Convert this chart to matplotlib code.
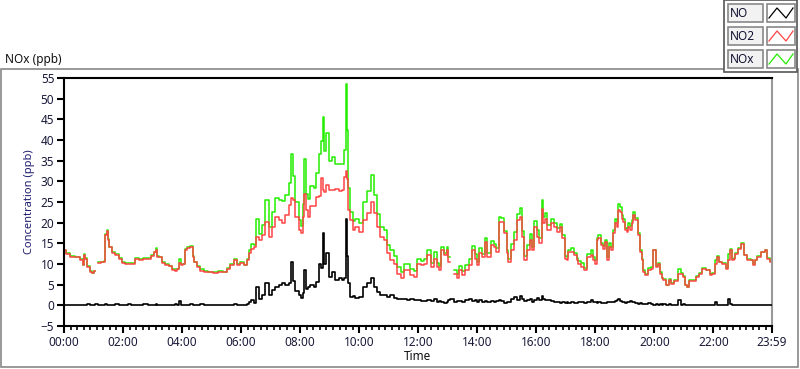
import numpy as np
import matplotlib
matplotlib.use("Agg")
import matplotlib.pyplot as plt
from matplotlib.patches import Rectangle
from matplotlib.lines import Line2D
from matplotlib.ticker import MultipleLocator, FixedLocator

plt.rcParams['font.family'] = ['Noto Sans', 'DejaVu Sans']

# minute of the day for each reading
minutes = [0, 8, 16, 28, 37, 39, 41, 45, 49, 55, 59, 61, 67, 73, 79, 83, 85, 88, 90, 94,
           100, 108, 114, 120, 128, 134, 140, 149, 155, 165, 175, 179, 185, 189, 191, 195,
           202, 210, 216, 222, 228, 232, 234, 240, 244, 248, 252, 261, 263, 267, 273, 281,
           287, 297, 307, 318, 328, 334, 342, 348, 354, 362, 368, 375, 379, 383, 389, 393,
           399, 405, 413, 419, 425, 434, 440, 446, 454, 460, 464, 466, 474, 480, 484, 486,
           491, 493, 497, 505, 511, 515, 521, 525, 527, 531, 535, 541, 547, 556, 562, 568,
           572, 574, 576, 578, 586, 588, 596, 602, 613, 619, 627, 633, 639, 647, 653, 659,
           668, 674, 680, 688, 694, 700, 708, 714, 721, 729, 735, 741, 749, 755, 761, 765,
           769, 775, 780, 782, 788, 796, 800, 806, 812, 820, 826, 832, 837, 841, 847, 853,
           857, 863, 871, 877, 881, 887, 891, 898, 902, 904, 912, 918, 924, 928, 932, 938,
           944, 949, 953, 959, 963, 969, 973, 975, 979, 985, 993, 999, 1006, 1010, 1016, 1020,
           1024, 1026, 1034, 1040, 1044, 1046, 1054, 1060, 1067, 1075, 1077, 1081, 1085, 1087,
           1095, 1097, 1101, 1105, 1109, 1115, 1117, 1122, 1126, 1128, 1132, 1136, 1138, 1142,
           1146, 1148, 1152, 1156, 1158, 1162, 1166, 1168, 1172, 1176, 1178, 1183, 1189, 1197,
           1199, 1207, 1209, 1213, 1217, 1219, 1227, 1231, 1237, 1244, 1250, 1258, 1260, 1264,
           1268, 1274, 1280, 1288, 1294, 1301, 1309, 1315, 1321, 1325, 1329, 1335, 1341, 1349,
           1352, 1356, 1360, 1362, 1366, 1372, 1380, 1386, 1392, 1400, 1402, 1406, 1413, 1421,
           1427, 1431, 1437, 1439]

nan = float('nan')
no2 = [13.3, 12.5, 11.8, 11.7, 10.9, 9.7, 12.1, 11.3, 9.3, 8.0, 7.8, 8.2, nan, 10.2, 10.4, 10.6, 17.0, 18.0, 15.8, 14.1,
       12.6, 12.1, 11.3, 10.3, 10.0, 9.9, 10.1, 11.3, 11.0, 11.2, 11.3, 12.0, 12.8, 13.5, 11.8, 11.6,
       10.3, 9.7, 9.4, 8.6, 8.4, 8.7, 10.3, 9.7, 9.9, 13.5, 13.9, 14.0, 11.7, 10.5, 9.3, 8.4,
       8.1, 8.0, 7.9, 8.1, 8.0, 8.8, 9.7, 10.9, 9.7, 10.3, 9.7, 10.9, 12.6, 13.7, 14.1, 16.5,
       15.8, 17.0, 20.2, 16.5, 19.0, 21.4, 20.6, 19.8, 21.8, 24.2, 26.0, 25.4, 21.4, 18.2, 17.4, 21.4,
       27.0, 23.0, 21.4, 24.0, 24.0, 26.2, 26.5, 30.7, 28.0, 27.5, 29.0, 28.0, 27.9, 28.2, 27.6, 28.0,
       31.1, 32.5, 30.5, 23.0, 20.6, 18.2, 19.0, 17.8, 20.6, 22.3, 25.0, 22.3, 19.0, 16.5, 15.8, 12.6,
       10.9, 10.1, 7.7, 6.5, 8.5, 8.5, 7.3, 6.9, 10.1, 9.7, 10.1, 12.1, 9.3, 11.3, 9.3, 8.5,
       13.3, 12.1, 13.3, 10.5, nan, 7.7, 6.5, 8.5, 7.3, 8.5, 9.7, 13.3, 11.3, 9.7, 12.6, 11.7,
       15.3, 11.7, 14.5, 14.0, 12.9, 20.2, 20.2, 17.4, 12.6, 10.5, 13.3, 15.8, 20.6, 21.4, 16.5, 10.9,
       13.3, 15.8, 13.3, 19.0, 16.5, 15.0, 23.4, 19.8, 21.0, 18.2, 19.8, 19.0, 17.8, 19.0, 16.2, 11.3,
       10.9, 12.9, 12.9, 12.1, 10.9, 10.1, 9.3, 8.5, 11.7, 12.1, 10.9, 10.1, 15.8, 16.2,
       14.5, 13.7, 15.3, 10.9, 14.1, 13.3, 17.4, 19.8, 19.0, 23.0, 22.6, 21.0, 20.2, 18.2,
       17.8, 19.0, 18.2, 19.8, 21.8, 20.6, 20.6, 17.0, 12.9, 10.9, 8.1, 7.3, 8.5, 8.9,
       13.3, 9.3, 10.1, 7.7, 6.5, 6.1, 4.8, 6.1, 5.2, 6.0, 7.7, 7.7, 6.9, 4.8,
       4.4, 6.0, 6.0, 6.9, 7.7, 8.9, 8.5, 7.3, 7.7, 10.1, 11.7, 10.5, 10.1, 8.9,
       10.9, 13.3, 10.9, 11.3, 12.5, 13.7, 14.9, 12.1, 10.9, 10.9, 9.7, 10.9, 11.7, 12.9,
       13.3, 11.3, 10.5, 10.3]

no = [0.2, 0.1, 0.2, 0.1, 0.2, 0.1, 0.2, 0.1, 0.3, 0.2, 0.1, 0.2, 0.3, 0.2, 0.1, 0.2, 0.3, 0.2, 0.2, 0.1,
      0.2, 0.3, 0.2, 0.1, 0.2, 0.3, 0.2, 0.1, 0.2, 0.3, 0.2, 0.1, 0.2, 0.3, 0.2, 0.1,
      0.2, 0.2, 0.1, 0.2, 0.3, 0.2, 1.0, 0.2, 0.1, 0.2, 0.2, 0.3, 0.2, 0.1, 0.2, 0.3,
      0.2, 0.1, 0.2, 0.2, 0.1, 0.2, 0.2, 0.3, 0.2, 0.2, 0.1, 0.3, 0.8, 1.2, 0.5, 4.4,
      1.5, 2.5, 5.3, 2.4, 3.6, 4.5, 4.8, 5.5, 4.9, 5.5, 10.5, 6.0, 3.5, 2.4, 1.7, 3.0,
      8.5, 4.0, 4.4, 4.8, 4.4, 5.7, 10.1, 9.0, 17.5, 9.9, 12.6, 6.9, 8.0, 6.1, 6.5, 6.1,
      6.5, 21.0, 12.0, 5.3, 2.0, 2.2, 1.8, 2.0, 4.4, 5.3, 6.5, 4.4, 3.2, 2.4, 2.4, 2.0,
      2.4, 1.8, 1.6, 1.5, 1.6, 1.4, 1.6, 1.3, 1.2, 1.0, 1.1, 1.2, 1.0, 1.6, 0.9, 1.0,
      0.8, 0.6, 0.9, 1.2, 1.5, 0.8, 1.0, 1.1, 0.9, 1.3, 1.5, 1.0, 1.2, 0.9, 1.2, 0.7,
      1.0, 0.9, 1.0, 0.8, 1.0, 1.2, 1.0, 0.6, 0.9, 0.8, 1.5, 2.0, 1.4, 2.2, 1.6, 1.0,
      1.3, 1.5, 0.9, 1.4, 1.8, 1.2, 2.2, 1.5, 1.4, 1.2, 1.0, 0.9, 0.8, 0.6, 0.7, 0.6,
      0.8, 0.5, 0.9, 0.5, 0.6, 0.7, 0.9, 0.6, 0.8, 1.2, 0.9, 0.8, 0.5, 0.7,
      0.5, 0.6, 0.5, 0.7, 0.9, 0.8, 0.9, 1.0, 1.2, 1.6, 1.1, 0.9, 0.8, 0.6,
      0.7, 0.9, 1.0, 0.8, 0.7, 0.6, 0.5, 0.4, 0.5, 0.3, 0.4, 0.3, 0.5, 0.3,
      0.2, 0.3, 0.2, 0.3, 0.2, 0.3, 0.2, 0.3, 0.2, 0.2, 1.2, 0.2, 0.3, 0.2,
      0.1, 0.2, 0.1, 0.2, 0.1, 0.2, 0.1, 0.2, 0.1, 0.8, 0.2, 0.1, 0.2, 0.2,
      1.6, 0.3, 0.2, 0.1, 0.2, 0.1, 0.2, 0.1, 0.2, 0.1, 0.2, 0.1, 0.2, 0.1,
      0.2, 0.1, 0.2, 0.2]

nox = [a + b for a, b in zip(no, no2)]

tick_minutes = [0, 120, 240, 360, 480, 600, 720, 840, 960, 1080, 1200, 1320, 1439]
tick_labels = ['00:00', '02:00', '04:00', '06:00', '08:00', '10:00', '12:00',
               '14:00', '16:00', '18:00', '20:00', '22:00', '23:59']
legend_names = ['NO', 'NO2', 'NOx']
colors = ['black', '#ff4444', '#22ee00']

W, H = 800, 369
fig = plt.figure(figsize=(8, 3.69), dpi=100)


def fx(px):
    return px / W


def fy(py):
    return 1 - py / H


# outer frame of the chart
fig.add_artist(Rectangle((fx(0.5), fy(367)), fx(797), (367 - 69) / H, fill=False,
                         edgecolor='#888888', lw=1.2, transform=fig.transFigure))
fig.text(fx(5), fy(60), 'NOx (ppb)', fontsize=8.5, va='center', ha='left', color='#111111')

ax = fig.add_axes([fx(64), fy(326), fx(772 - 64), (326 - 78) / H])
ax.plot(minutes, nox, color=colors[2], lw=1.1, zorder=1, drawstyle='steps-mid')
ax.plot(minutes, no2, color=colors[1], lw=1.1, zorder=2, drawstyle='steps-mid')
ax.plot(minutes, no, color=colors[0], lw=1.2, zorder=3, drawstyle='steps-mid')

ax.set_xlim(0, 1439)
ax.set_ylim(-5, 55)
ax.yaxis.set_major_locator(MultipleLocator(5))
ax.xaxis.set_major_locator(FixedLocator(tick_minutes))
ax.set_xticklabels(tick_labels)
ax.xaxis.set_minor_locator(MultipleLocator(120 / 9))
ax.tick_params(axis='both', which='major', direction='out', length=5, width=1.5,
               labelsize=8.5, colors='black', labelcolor='#1a1a3a', pad=2)
ax.tick_params(axis='x', which='minor', direction='out', length=3, width=1.2)
for s in ['left', 'bottom', 'top']:
    ax.spines[s].set_linewidth(1.5)
    ax.spines[s].set_color('black')
ax.spines['right'].set_color('#999999')
ax.spines['right'].set_linewidth(1.5)
ax.set_ylabel('Concentration (ppb)', fontsize=8, color='#1f1f70', labelpad=4)
ax.set_xlabel('Time', fontsize=8.5, color='#111111', labelpad=1)

# legend panel at the top right
fig.add_artist(Rectangle((fx(724), fy(72)), fx(73), 72 / H, facecolor='white',
                         edgecolor='#555555', lw=1.2, transform=fig.transFigure))
for i, (name, c) in enumerate(zip(legend_names, colors)):
    top = 4 + i * 23
    fig.add_artist(Rectangle((fx(728), fy(top + 18)), fx(35), 18 / H, facecolor='#f2f2f2',
                             edgecolor='#888888', lw=1.2, transform=fig.transFigure))
    fig.text(fx(730), fy(top + 9.5), name, fontsize=8.5, va='center', ha='left', color='#111133')
    fig.add_artist(Rectangle((fx(767), fy(top + 18)), fx(28), 18 / H, facecolor='white',
                             edgecolor='#888888', lw=1.2, transform=fig.transFigure))
    zx = [769, 777, 786, 793]
    zy = [top + 14, top + 4, top + 14, top + 4]
    fig.add_artist(Line2D([fx(v) for v in zx], [fy(v) for v in zy], color=c, lw=0.9,
                          transform=fig.transFigure))

fig.savefig('out.png', dpi=100)
